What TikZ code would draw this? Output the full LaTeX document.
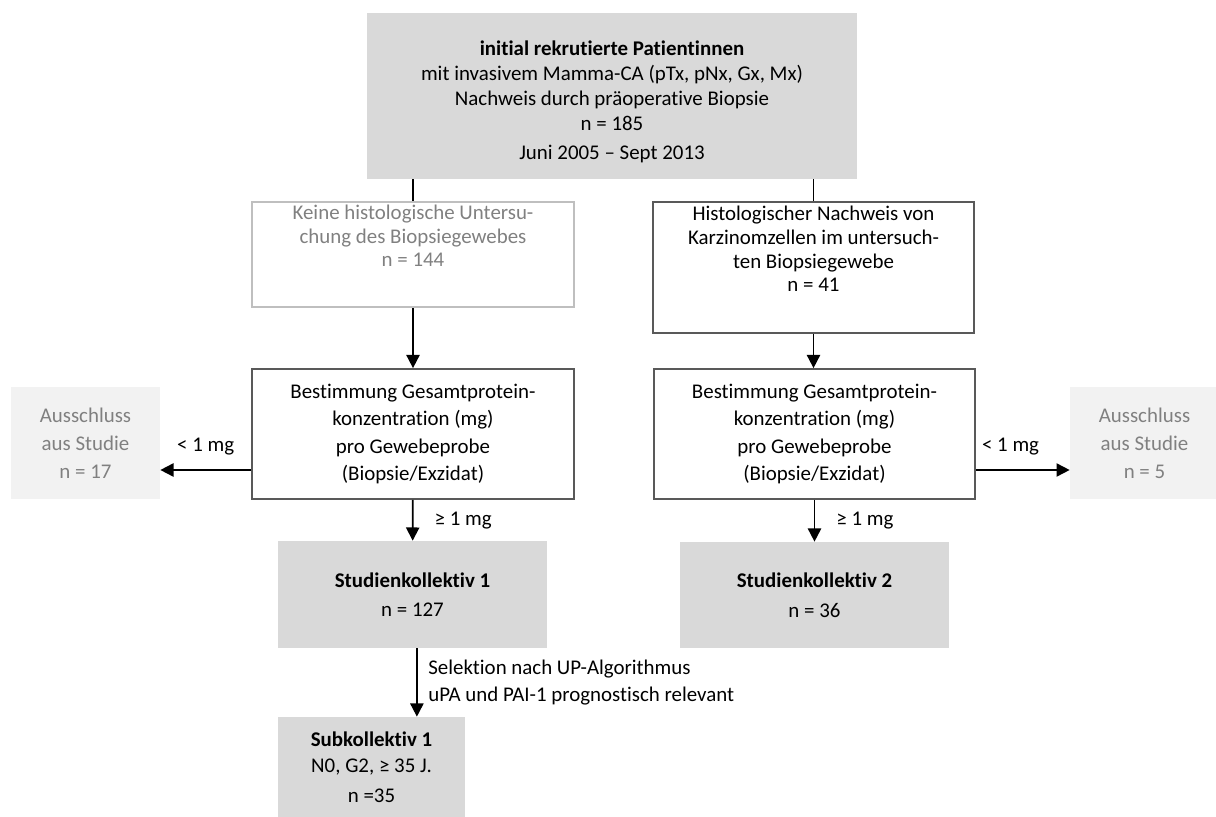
\documentclass[tikz,border=0pt]{standalone}
\usepackage{fontspec}
\setmainfont{Carlito}[Ligatures=NoCommon]
\usetikzlibrary{positioning,arrows.meta}
\definecolor{boxgray}{HTML}{D9D9D9}
\definecolor{palegray}{HTML}{F2F2F2}
\definecolor{textgray}{HTML}{808080}
\definecolor{rimgray}{HTML}{BFBFBF}
\definecolor{rimdark}{HTML}{595959}
\tikzset{>={Triangle[width=7.5pt,length=7.5pt]},
  every node/.style={align=center,inner sep=0pt},
  txt/.style={font=\fontsize{11.9}{#1}\selectfont},
  filled/.style={fill=boxgray},
  framed/.style={draw=rimdark,line width=1pt},
  faint/.style={draw=rimgray,line width=1pt},
  excluded/.style={fill=palegray,text=textgray},
  flow/.style={->,line width=1pt},
  link/.style={line width=1pt}}

\begin{document}
\begin{tikzpicture}[x=0.02cm,y=-0.02cm]
\useasboundingbox (0,0) rectangle (1216,817);
% boxes
\node[filled,minimum width=9.8cm,minimum height=3.32cm] (top) at (612,96) {};
\node[txt=14.2pt] (topT) at (612,102)
  {\textbf{initial rekrutierte Patientinnen}\\ mit invasivem Mamma-CA (pTx, pNx, Gx, Mx)\\
   Nachweis durch präoperative Biopsie\\ n = 185\\[2.5pt] Juni 2005 – Sept 2013};
\node[faint,minimum width=6.44cm,minimum height=2.1cm] (keine) at (413,254.5) {};
\node[text=textgray,txt=13.4pt] (keineT) at (413,236)
  {Keine histologische Untersu-\\ chung des Biopsiegewebes\\ n = 144};
\node[framed,minimum width=6.42cm,minimum height=2.62cm] (histo) at (813.5,267.5) {};
\node[txt=13.4pt] (histoT) at (813.5,249)
  {Histologischer Nachweis von\\ Karzinomzellen im untersuch-\\ ten Biopsiegewebe\\ n = 41};
\node[framed,txt=15.4pt,minimum width=6.44cm,minimum height=2.6cm] (bestL) at (413,434)
  {Bestimmung Gesamtprotein-\\ konzentration (mg)\\ pro Gewebeprobe\\ (Biopsie/Exzidat)};
\node[framed,txt=15.4pt,minimum width=6.42cm,minimum height=2.6cm] (bestR) at (814.5,434)
  {Bestimmung Gesamtprotein-\\ konzentration (mg)\\ pro Gewebeprobe\\ (Biopsie/Exzidat)};
\node[excluded,txt=16pt,minimum width=2.98cm,minimum height=2.24cm] (ausL) at (85.5,443)
  {Ausschluss\\ aus Studie\\ n = 17};
\node[excluded,txt=16pt,minimum width=2.98cm,minimum height=2.24cm] (ausR) at (1144.5,443)
  {Ausschluss\\ aus Studie\\ n = 5};
\node[filled,txt=16.8pt,minimum width=5.38cm,minimum height=2.14cm] (stud1) at (412.5,594.5)
  {\textbf{Studienkollektiv 1}\\ n = 127};
\node[filled,txt=16.8pt,minimum width=5.38cm,minimum height=2.12cm] (stud2) at (814.5,595)
  {\textbf{Studienkollektiv 2}\\ n = 36};
\node[filled,txt=15pt,minimum width=3.74cm,minimum height=2cm] (sub) at (371.5,767)
  {\textbf{Subkollektiv 1}\\ N0, G2, ≥ 35 J.\\[2pt] n =35};
% connectors
\draw[link] (top.south -| keine.north) -- (keine.north);
\draw[link] (top.south -| histo.north) -- (histo.north);
\draw[flow] (keine) -- (bestL);
\draw[flow] (histo.south) -- (histo.south |- bestR.north);
\draw[flow] (bestL.west |- 0,470) -- (ausL.east |- 0,470)
  node[midway,above=8pt,txt=13pt] (ltL) {< 1 mg};
\draw[flow] (bestR.east |- 0,470) -- (ausR.west |- 0,470)
  node[pos=.37,above=8pt,txt=13pt] (ltR) {< 1 mg};
\draw[flow] (bestL) -- (stud1)
  node[midway,right=12pt,txt=13pt] (geL) {≥ 1 mg};
\draw[flow] (bestR) -- (stud2)
  node[midway,right=12pt,txt=13pt] (geR) {≥ 1 mg};
\draw[flow] ([xshift=2.5]stud1.south) -- ([xshift=2.5]stud1.south |- sub.north)
  node[midway,right=6pt,align=left,txt=15.4pt] (sel)
  {Selektion nach UP-Algorithmus\\ uPA und PAI-1 prognostisch relevant};
\end{tikzpicture}
\end{document}
